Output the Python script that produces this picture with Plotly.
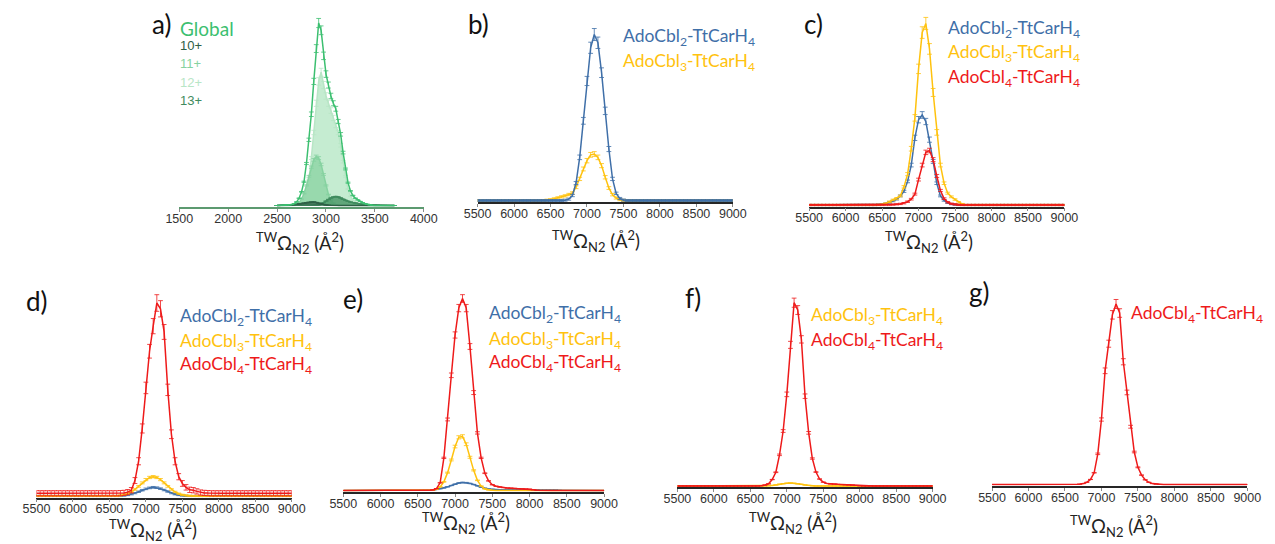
import plotly.graph_objects as go

W, H = 1275, 544

# ---------------------------------------------------------------- bins
ccs_a = list(range(2500, 3725, 25))      # panel a, 25 A^2 bins
ccs = list(range(5500, 9050, 50))        # panels b-g, 50 A^2 bins

# ---------------------------------------------------------------- panel a (charge states)
a_global = [0, 0, 0, 0.2,
            0.3, 0.4, 0.5, 1.0,
            2.0, 4.0, 7.5, 13,
            23, 36, 50, 68,
            86, 100, 96, 82,
            72, 66, 60, 56,
            53, 46, 39, 29,
            20, 12.5, 8, 5.5,
            4, 3, 2.2, 1.5,
            1.0, 0.6, 0.3, 0.1,
            0, 0, 0, 0,
            0, 0, 0, 0,
            0]
a_10 = [0, 0, 0.05, 0.08,
        0.1, 0.2, 0.35, 0.5,
        0.7, 0.9, 1.1, 1.35,
        1.6, 1.8, 1.9, 1.9,
        1.7, 1.3, 0.9, 0.5,
        0.3, 0.15, 0.05, 0,
        0, 0, 0, 0,
        0, 0, 0, 0,
        0, 0, 0, 0,
        0, 0, 0, 0,
        0, 0, 0, 0,
        0, 0, 0, 0,
        0]
a_11 = [0, 0, 0, 0,
        0, 0, 0.2, 0.3,
        0.5, 1.5, 3.5, 6.5,
        11, 16, 21, 25,
        26.8, 26, 22.5, 17,
        11, 6, 3, 1.3,
        0.5, 0, 0, 0,
        0, 0, 0, 0,
        0, 0, 0, 0,
        0, 0, 0, 0,
        0, 0, 0, 0,
        0, 0, 0, 0,
        0]
a_12 = [0, 0, 0, 0,
        0, 0, 0, 0.2,
        0.5, 1, 2, 4,
        8, 14, 26, 40,
        56, 68, 73, 66,
        60, 56, 52, 48,
        44, 40, 33, 24,
        16, 9, 5, 3,
        1.8, 1.0, 0.5, 0.2,
        0, 0, 0, 0,
        0, 0, 0, 0,
        0, 0, 0, 0,
        0]
a_13 = [0, 0, 0, 0,
        0, 0, 0, 0,
        0, 0, 0, 0,
        0, 0, 0, 0.1,
        0.2, 0.3, 0.8, 1.5,
        2.4, 3.3, 4.1, 4.7,
        4.9, 4.7, 4.1, 3.4,
        2.8, 2.3, 1.9, 1.6,
        1.3, 1.1, 0.9, 0.7,
        0.55, 0.4, 0.3, 0.25,
        0.2, 0.15, 0.1, 0.08,
        0.05, 0.03, 0, 0,
        0]

# ---------------------------------------------------------------- panels b-g (AdoCbl_n-TtCarH4)
b_n2 = [0, 0, 0, 0, 0, 0, 0, 0, 0, 0,
        0, 0, 0, 0, 0, 0, 0, 0, 0, 0,
        0, 0, 0, 0, 0.2, 0.8, 3, 10.5, 26, 48,
        72, 92, 100, 95, 77, 54, 31, 13, 4.3, 1.2,
        0.3, 0, 0, 0, 0, 0, 0, 0, 0, 0,
        0, 0, 0, 0, 0, 0, 0, 0, 0, 0,
        0, 0, 0, 0, 0, 0, 0, 0, 0, 0,
        0]
b_n3 = [0, 0, 0, 0, 0, 0, 0, 0, 0, 0,
        0, 0, 0, 0, 0, 0, 0, 0, 0, 0.2,
        0.5, 1.0, 1.6, 2.2, 2.8, 3.6, 4.5, 8.0, 13, 19,
        24, 27.5, 28, 26, 21, 14, 7.5, 3.5, 1.5, 0.5,
        0.1, 0, 0, 0, 0, 0, 0, 0, 0, 0,
        0, 0, 0, 0, 0, 0, 0, 0, 0, 0,
        0, 0, 0, 0, 0, 0, 0, 0, 0, 0,
        0]

c_n2 = [0, 0, 0, 0, 0, 0, 0, 0, 0, 0,
        0, 0, 0, 0, 0, 0, 0, 0, 0, 0.2,
        0.4, 0.8, 1.4, 2.2, 3.2, 5, 7.5, 13, 22, 37,
        47, 49.6, 46, 36, 24, 12, 5, 2.5, 1.2, 0.5,
        0.2, 0, 0, 0, 0, 0, 0, 0, 0, 0,
        0, 0, 0, 0, 0, 0, 0, 0, 0, 0,
        0, 0, 0, 0, 0, 0, 0, 0, 0, 0,
        0]
c_n3 = [0, 0, 0, 0, 0, 0, 0, 0, 0, 0,
        0, 0, 0, 0, 0, 0, 0, 0, 0, 0.1,
        0.3, 0.8, 1.8, 2.8, 3.6, 5, 10, 17, 31, 48,
        75, 95, 100, 86, 62, 40, 22, 12, 6.5, 4.5,
        3, 1.5, 0.5, 0, 0, 0, 0, 0, 0, 0,
        0, 0, 0, 0, 0, 0, 0, 0, 0, 0,
        0, 0, 0, 0, 0, 0, 0, 0, 0, 0,
        0]
c_n4 = [0, 0, 0, 0, 0, 0, 0, 0, 0, 0,
        0, 0, 0, 0, 0, 0, 0, 0, 0, 0,
        0, 0, 0, 0.2, 0.4, 0.6, 1.0, 1.8, 3.2, 6.0,
        14, 22, 29, 30, 25, 16, 8, 3.5, 1.5, 0.7,
        0.3, 0.1, 0, 0, 0, 0, 0, 0, 0, 0,
        0, 0, 0, 0, 0, 0, 0, 0, 0, 0,
        0, 0, 0, 0, 0, 0, 0, 0, 0, 0,
        0]

d_n2 = [0, 0, 0, 0, 0, 0, 0, 0, 0, 0,
        0, 0, 0, 0, 0, 0, 0, 0, 0, 0,
        0, 0, 0, 0, 0.2, 0.5, 0.9, 1.5, 2.2, 3.0,
        3.7, 4.2, 4.5, 4.3, 3.8, 3.1, 2.3, 1.5, 0.9, 0.5,
        0.2, 0.1, 0, 0, 0, 0, 0, 0, 0, 0,
        0, 0, 0, 0, 0, 0, 0, 0, 0, 0,
        0, 0, 0, 0, 0, 0, 0, 0, 0, 0,
        0]
d_n3 = [0, 0, 0, 0, 0, 0, 0, 0, 0, 0,
        0, 0, 0, 0, 0, 0, 0, 0, 0, 0,
        0, 0, 0, 0.3, 0.6, 1.2, 2.1, 3.4, 5.0, 6.8,
        8.5, 9.6, 10, 9.6, 8.5, 6.8, 5.0, 3.4, 2.1, 1.2,
        0.6, 0.3, 0.1, 0, 0, 0, 0, 0, 0, 0,
        0, 0, 0, 0, 0, 0, 0, 0, 0, 0,
        0, 0, 0, 0, 0, 0, 0, 0, 0, 0,
        0]
d_n4 = [1.4, 1.4, 1.4, 1.4, 1.4, 1.4, 1.4, 1.4, 1.4, 1.4,
        1.4, 1.4, 1.4, 1.4, 1.4, 1.4, 1.4, 1.4, 1.4, 1.4,
        1.4, 1.4, 1.4, 1.5, 1.6, 2.0, 3.0, 8, 18, 35,
        56, 75, 88, 100, 97, 85, 55, 32, 18, 10,
        6.5, 4.5, 3.2, 3.0, 2.4, 1.8, 1.6, 1.5, 1.4, 1.4,
        1.4, 1.4, 1.4, 1.4, 1.4, 1.4, 1.4, 1.4, 1.4, 1.4,
        1.4, 1.4, 1.4, 1.4, 1.4, 1.4, 1.4, 1.4, 1.4, 1.4,
        1.4]

e_n2 = [0, 0, 0, 0, 0, 0, 0, 0, 0, 0,
        0, 0, 0, 0, 0, 0, 0, 0, 0, 0,
        0, 0.1, 0.15, 0.2, 0.3, 0.5, 0.9, 1.3, 1.9, 2.6,
        3.3, 3.9, 4.2, 4.1, 3.7, 3.1, 2.4, 1.7, 1.2, 0.8,
        0.6, 0.45, 0.35, 0.3, 0.3, 0.3, 0.3, 0.3, 0.3, 0.3,
        0.3, 0.3, 0.3, 0.3, 0.3, 0.3, 0.3, 0.3, 0.1, 0,
        0, 0, 0, 0, 0, 0, 0, 0, 0, 0,
        0]
e_n3 = [0, 0, 0, 0, 0, 0, 0, 0, 0, 0,
        0, 0, 0, 0, 0, 0, 0, 0, 0, 0,
        0, 0, 0, 0, 0.2, 0.65, 1.9, 4.5, 9.3, 15.9,
        22.9, 27.7, 28.2, 24.1, 17.3, 10.5, 5.3, 2.3, 0.8, 0.3,
        0.1, 0, 0, 0, 0, 0, 0, 0, 0, 0,
        0, 0, 0, 0, 0, 0, 0, 0, 0, 0,
        0, 0, 0, 0, 0, 0, 0, 0, 0, 0,
        0]
e_n4 = [0, 0, 0, 0, 0, 0, 0, 0, 0, 0,
        0, 0, 0, 0, 0, 0, 0, 0, 0, 0,
        0, 0, 0, 0, 0.3, 1.0, 4, 17, 37, 60,
        81, 95, 100, 95, 75, 51, 30, 17, 9, 5,
        3, 2.2, 1.8, 1.5, 1.3, 1.2, 1.1, 1.0, 0.9, 0.8,
        0.7, 0.4, 0.1, 0, 0, 0, 0, 0, 0, 0,
        0, 0, 0, 0, 0, 0, 0, 0, 0, 0,
        0]

f_n3 = [0, 0, 0, 0, 0, 0, 0, 0, 0, 0,
        0, 0, 0, 0, 0, 0, 0, 0, 0, 0,
        0, 0, 0, 0, 0, 0.1, 0.3, 0.6, 1.0, 1.3,
        1.5, 1.6, 1.5, 1.2, 0.9, 0.6, 0.3, 0.1, 0, 0,
        0, 0, 0, 0, 0, 0, 0, 0, 0, 0,
        0, 0, 0, 0, 0, 0, 0, 0, 0, 0,
        0, 0, 0, 0, 0, 0, 0, 0, 0, 0,
        0]
f_n4 = [0, 0, 0, 0, 0, 0, 0, 0, 0, 0,
        0, 0, 0, 0, 0, 0, 0, 0, 0, 0,
        0, 0, 0, 0.2, 0.5, 1.2, 3.5, 7.5, 17, 30,
        50, 77, 100, 96, 80, 49, 29, 15, 7.6, 3.8,
        2.1, 1.4, 1.1, 1.0, 0.9, 0.8, 0.7, 0.6, 0.5, 0.3,
        0.1, 0, 0, 0, 0, 0, 0, 0, 0, 0,
        0, 0, 0, 0, 0, 0, 0, 0, 0, 0,
        0]

g_n4 = [0, 0, 0, 0, 0, 0, 0, 0, 0, 0,
        0, 0, 0, 0, 0, 0, 0, 0, 0, 0,
        0, 0, 0, 0, 0.2, 0.5, 1.2, 2.8, 6.5, 17,
        36, 63, 78, 94, 100, 95, 68, 51, 32, 18,
        9.5, 5.2, 2.6, 1.2, 0.5, 0.2, 0, 0, 0, 0,
        0, 0, 0, 0, 0, 0, 0, 0, 0, 0,
        0, 0, 0, 0, 0, 0, 0, 0, 0, 0,
        0]

ticks_a = [1500, 2000, 2500, 3000, 3500, 4000]
ticks_ccs = [5500, 6000, 6500, 7000, 7500, 8000, 8500, 9000]

# ---------------------------------------------------------------- styling
BLUE = "#3f6fa8"
GOLD = "#ffc20e"
RED = "#ee1a1a"
GREEN = "#3cbf70"
C10 = "#2e6046"
C11 = "#86d2a0"
C12 = "#b8e6c6"
C13 = "#3f8b5e"

TEXT_FONT = "Lato, 'Open Sans', sans-serif"
TICK_FONT = "'Liberation Sans', Arial, sans-serif"

def rgba(hexcol, alpha):
    h = hexcol.lstrip("#")
    r, g, b = int(h[0:2], 16), int(h[2:4], 16), int(h[4:6], 16)
    return f"rgba({r},{g},{b},{alpha})"

# pixel geometry of every panel: x of range ends, y of zero, y of 100, y of axis line
panels = [
    dict(key="a", x0=169, x1=419, zero=205.5, full=23, axis=206.8, xr=[1500, 4000], ticks=ticks_a, axcol="#5c9a70"),
    dict(key="b", x0=474, x1=735, zero=200.5, full=34.5, axis=202.0, xr=[5500, 9000], ticks=ticks_ccs, axcol="#262626"),
    dict(key="c", x0=813, x1=1074, zero=205.0, full=23.5, axis=206.6, xr=[5500, 9000], ticks=ticks_ccs, axcol="#262626"),
    dict(key="d", x0=23, x1=284, zero=496.0, full=303, axis=497.5, xr=[5500, 9000], ticks=ticks_ccs, axcol="#262626"),
    dict(key="e", x0=336.7, x1=603.3, zero=490.5, full=298.5, axis=491.8, xr=[5500, 9000], ticks=ticks_ccs, axcol="#262626"),
    dict(key="f", x0=678.3, x1=939.3, zero=486.0, full=302.7, axis=487.3, xr=[5500, 9000], ticks=ticks_ccs, axcol="#262626"),
    dict(key="g", x0=1000, x1=1261, zero=484.5, full=304, axis=485.8, xr=[5500, 9000], ticks=ticks_ccs, axcol="#262626"),
]

# series per panel: (x, y, colour, relative error, error floor, fill colour or None)
series = {
    "a": [
        (ccs_a, a_12, C12, 0.03, 0.0, rgba("#c2ebcf", 0.95)),
        (ccs_a, a_11, C11, 0.03, 0.0, rgba("#8fd6a7", 0.85)),
        (ccs_a, a_13, C13, 0.03, 0.0, rgba("#4d9a6b", 0.85)),
        (ccs_a, a_10, C10, 0.03, 0.0, rgba("#35694d", 0.85)),
        (ccs_a, a_global, GREEN, 0.025, 0.0, None),
    ],
    "b": [
        (ccs, b_n3, GOLD, 0.03, 0.6, None),
        (ccs, b_n2, BLUE, 0.03, 0.6, None),
    ],
    "c": [
        (ccs, c_n2, BLUE, 0.03, 0.35, None),
        (ccs, c_n3, GOLD, 0.03, 0.35, None),
        (ccs, c_n4, RED, 0.03, 0.35, None),
    ],
    "d": [
        (ccs, d_n2, BLUE, 0.03, 0.3, None),
        (ccs, d_n3, GOLD, 0.03, 0.3, None),
        (ccs, d_n4, RED, 0.03, 1.3, None),
    ],
    "e": [
        (ccs, e_n2, BLUE, 0.03, 0.0, None),
        (ccs, e_n3, GOLD, 0.03, 0.0, None),
        (ccs, e_n4, RED, 0.02, 0.0, None),
    ],
    "f": [
        (ccs, f_n3, GOLD, 0.03, 0.0, None),
        (ccs, f_n4, RED, 0.025, 0.0, None),
    ],
    "g": [
        (ccs, g_n4, RED, 0.025, 0.0, None),
    ],
}

fig = go.Figure()
layout = dict(
    width=W, height=544,
    margin=dict(l=0, r=0, t=0, b=0),
    paper_bgcolor="white", plot_bgcolor="rgba(0,0,0,0)",
    showlegend=False,
)

for k, p in enumerate(panels, start=1):
    sfx = "" if k == 1 else str(k)
    scale = (p["zero"] - p["full"]) / 100.0           # px per intensity unit
    top = max(p["full"] - 28, 0)
    ymin = -(p["axis"] - p["zero"]) / scale
    ymax = (p["zero"] - top) / scale
    layout["xaxis" + sfx] = dict(
        domain=[p["x0"] / W, p["x1"] / W], range=p["xr"], anchor="y" + sfx,
        showgrid=False, zeroline=False, showline=True, linecolor=p["axcol"], linewidth=1.5,
        ticks="outside", ticklen=3, tickwidth=1, tickcolor="#8a8a8a",
        ticklabelstandoff=-4,
        tickvals=p["ticks"], ticktext=[str(t) for t in p["ticks"]],
        tickfont=dict(family=TICK_FONT, size=12.5, color="#333333"),
    )
    layout["yaxis" + sfx] = dict(
        domain=[(H - p["axis"]) / H, (H - top) / H], range=[ymin, ymax], anchor="x" + sfx,
        visible=False, showgrid=False, zeroline=False,
    )
    for (xs, ys, col, rel, floor, fillcol) in series[p["key"]]:
        err = [rel * v + floor if (v > 0 or floor > 0) else 0 for v in ys]
        fig.add_trace(go.Scatter(
            x=xs, y=ys, mode="lines",
            line=dict(color=col, width=1.5),
            fill="tozeroy" if fillcol else None,
            fillcolor=fillcol,
            error_y=dict(type="data", array=err, visible=True,
                         color=rgba(col, 0.8), thickness=1, width=2.4),
            xaxis="x" + sfx, yaxis="y" + sfx,
            hoverinfo="skip",
        ))

def px(x, y):
    return x / W, 1 - y / H

annotations = []

def add_text(text, x, y, size, color, family=TEXT_FONT, xanchor="left"):
    ax, ay = px(x, y)
    annotations.append(dict(
        text=text, x=ax, y=ay, xref="paper", yref="paper",
        xanchor=xanchor, yanchor="middle", showarrow=False,
        font=dict(family=family, size=size, color=color),
    ))

# panel letters
for lab, x, y in [("a)", 151, 24), ("b)", 475, 24), ("c)", 817, 24),
                  ("d)", 24, 301), ("e)", 347, 299), ("f)", 694, 298), ("g)", 987, 292)]:
    add_text(lab, x, y, 26, "#111111", xanchor="center")

# axis titles
ccs_title = "<sup>TW</sup>Ω<sub>N2</sub> (Å<sup>2</sup>)"
for x, y in [(292, 243), (595, 241), (936, 242), (142, 530), (462, 523), (796, 523), (1125, 526)]:
    add_text(ccs_title, x, y, 18.5, "#222222", xanchor="center")

# panel a legend
add_text("Global", 168, 28, 19, GREEN)
for lab, col, y in [("10+", C10, 45), ("11+", C11, 63), ("12+", C12, 82), ("13+", C13, 100)]:
    add_text(lab, 168, y, 13, col, family=TICK_FONT)

# complex legends
n2 = "AdoCbl<sub>2</sub>-TtCarH<sub>4</sub>"
n3 = "AdoCbl<sub>3</sub>-TtCarH<sub>4</sub>"
n4 = "AdoCbl<sub>4</sub>-TtCarH<sub>4</sub>"
legend_rows = [
    (621, 37, n2, BLUE), (621, 62, n3, GOLD),
    (953, 29, n2, BLUE), (953, 53, n3, GOLD), (953, 78, n4, RED),
    (168, 317, n2, BLUE), (168, 342, n3, GOLD), (168, 365, n4, RED),
    (484, 314, n2, BLUE), (484, 340, n3, GOLD), (484, 363, n4, RED),
    (813, 316, n3, GOLD), (813, 341, n4, RED),
    (1140, 314, n4, RED),
]
for x, y, t, c in legend_rows:
    add_text(t, x, y, 17.5, c)

layout["annotations"] = annotations
fig.update_layout(**layout)
fig.write_html("out.html")
